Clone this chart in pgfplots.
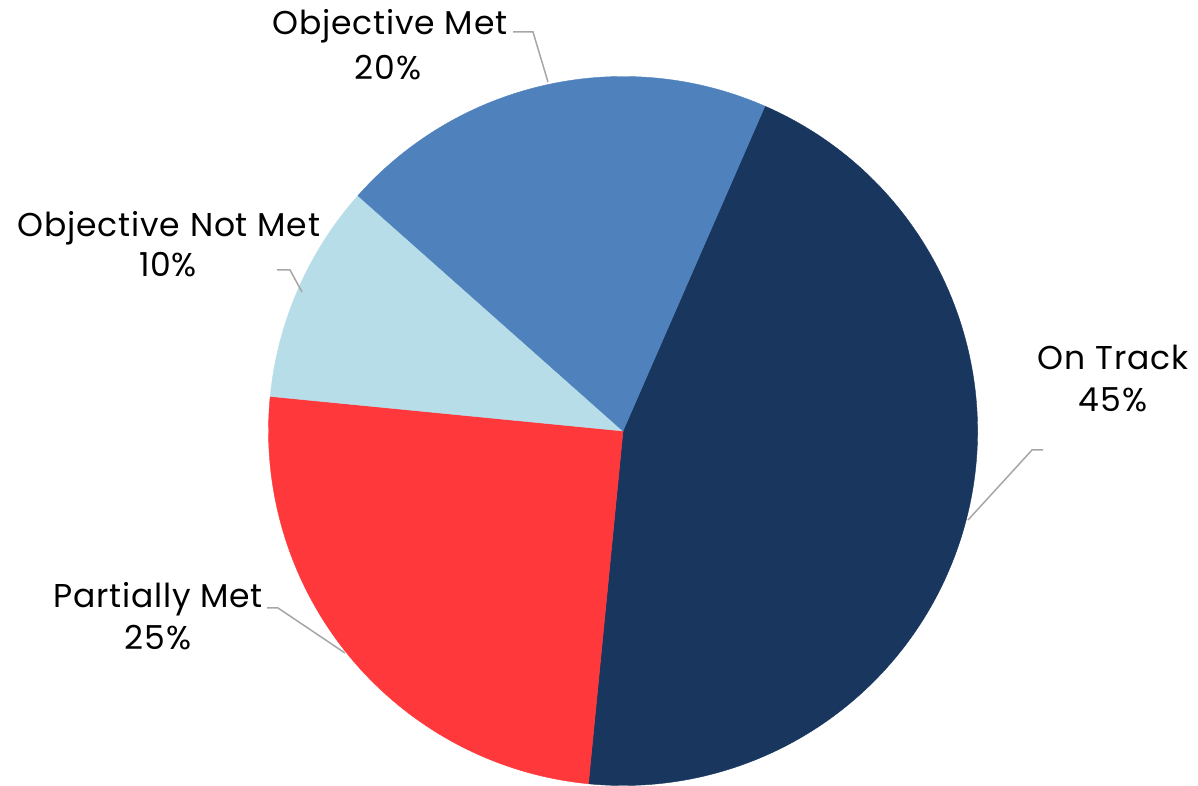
\documentclass[border=0pt]{standalone}
\usepackage{pgfplots}
\usepackage{pgfplotstable}
\pgfplotsset{compat=1.18}
\usepackage{fontspec}
\setmainfont{Poppins}[LetterSpace=2.5]
\definecolor{cTrack}{RGB}{25,54,94}
\definecolor{cMet}{RGB}{79,129,189}
\definecolor{cNotMet}{RGB}{183,221,232}
\definecolor{cPartial}{RGB}{255,56,60}
\definecolor{cLead}{RGB}{166,166,166}
\pgfplotstableread{
value color
45 cTrack
25 cPartial
10 cNotMet
20 cMet
}\piedata
\begin{document}
\begin{tikzpicture}
\begin{axis}[x=0.5pt,y=0.5pt,xmin=0,xmax=1198,ymin=0,ymax=786,
  hide axis,clip=false,at={(0,0)},anchor=south west,scale only axis]
\pgfplotsextra{
  \def\angA{66.4}
  \pgfplotsforeachungrouped \i in {0,1,2,3}{%
    \pgfplotstablegetelem{\i}{value}\of\piedata \let\v\pgfplotsretval
    \pgfplotstablegetelem{\i}{color}\of\piedata \let\c\pgfplotsretval
    \pgfmathsetmacro\angB{\angA-3.6*\v}%
    \fill[fill=\c,draw=\c,line width=0.2pt] (axis cs:623,355) -- ++(\angA:177.25pt) arc[start angle=\angA,end angle=\angB,radius=177.25pt] -- cycle;
    \global\let\angA\angB
  }
}
\begin{scope}[font=\fontsize{16.5pt}{21pt}\selectfont]
\addplot[cLead,line width=0.75pt] coordinates {(513,754) (533,754) (548,704)};
\addplot[cLead,line width=0.75pt] coordinates {(277,516) (290,516) (302,494)};
\addplot[cLead,line width=0.75pt] coordinates {(1043,336) (1032,336) (968,266)};
\addplot[cLead,line width=0.75pt] coordinates {(267,178) (278,178) (345,133)};
\node[anchor=base] at (axis cs:390,751) {Objective Met};
\node[anchor=base] at (axis cs:388,706) {20\%};
\node[anchor=base] at (axis cs:169,549) {Objective Not Met};
\node[anchor=base] at (axis cs:168,509) {10\%};
\node[anchor=base] at (axis cs:1113,416) {On Track};
\node[anchor=base] at (axis cs:1113,374) {45\%};
\node[anchor=base] at (axis cs:158,178) {Partially Met};
\node[anchor=base] at (axis cs:158,136) {25\%};
\end{scope}
\end{axis}
\pgfresetboundingbox
\path (0,0) rectangle (599pt,393pt);
\end{tikzpicture}
\end{document}
